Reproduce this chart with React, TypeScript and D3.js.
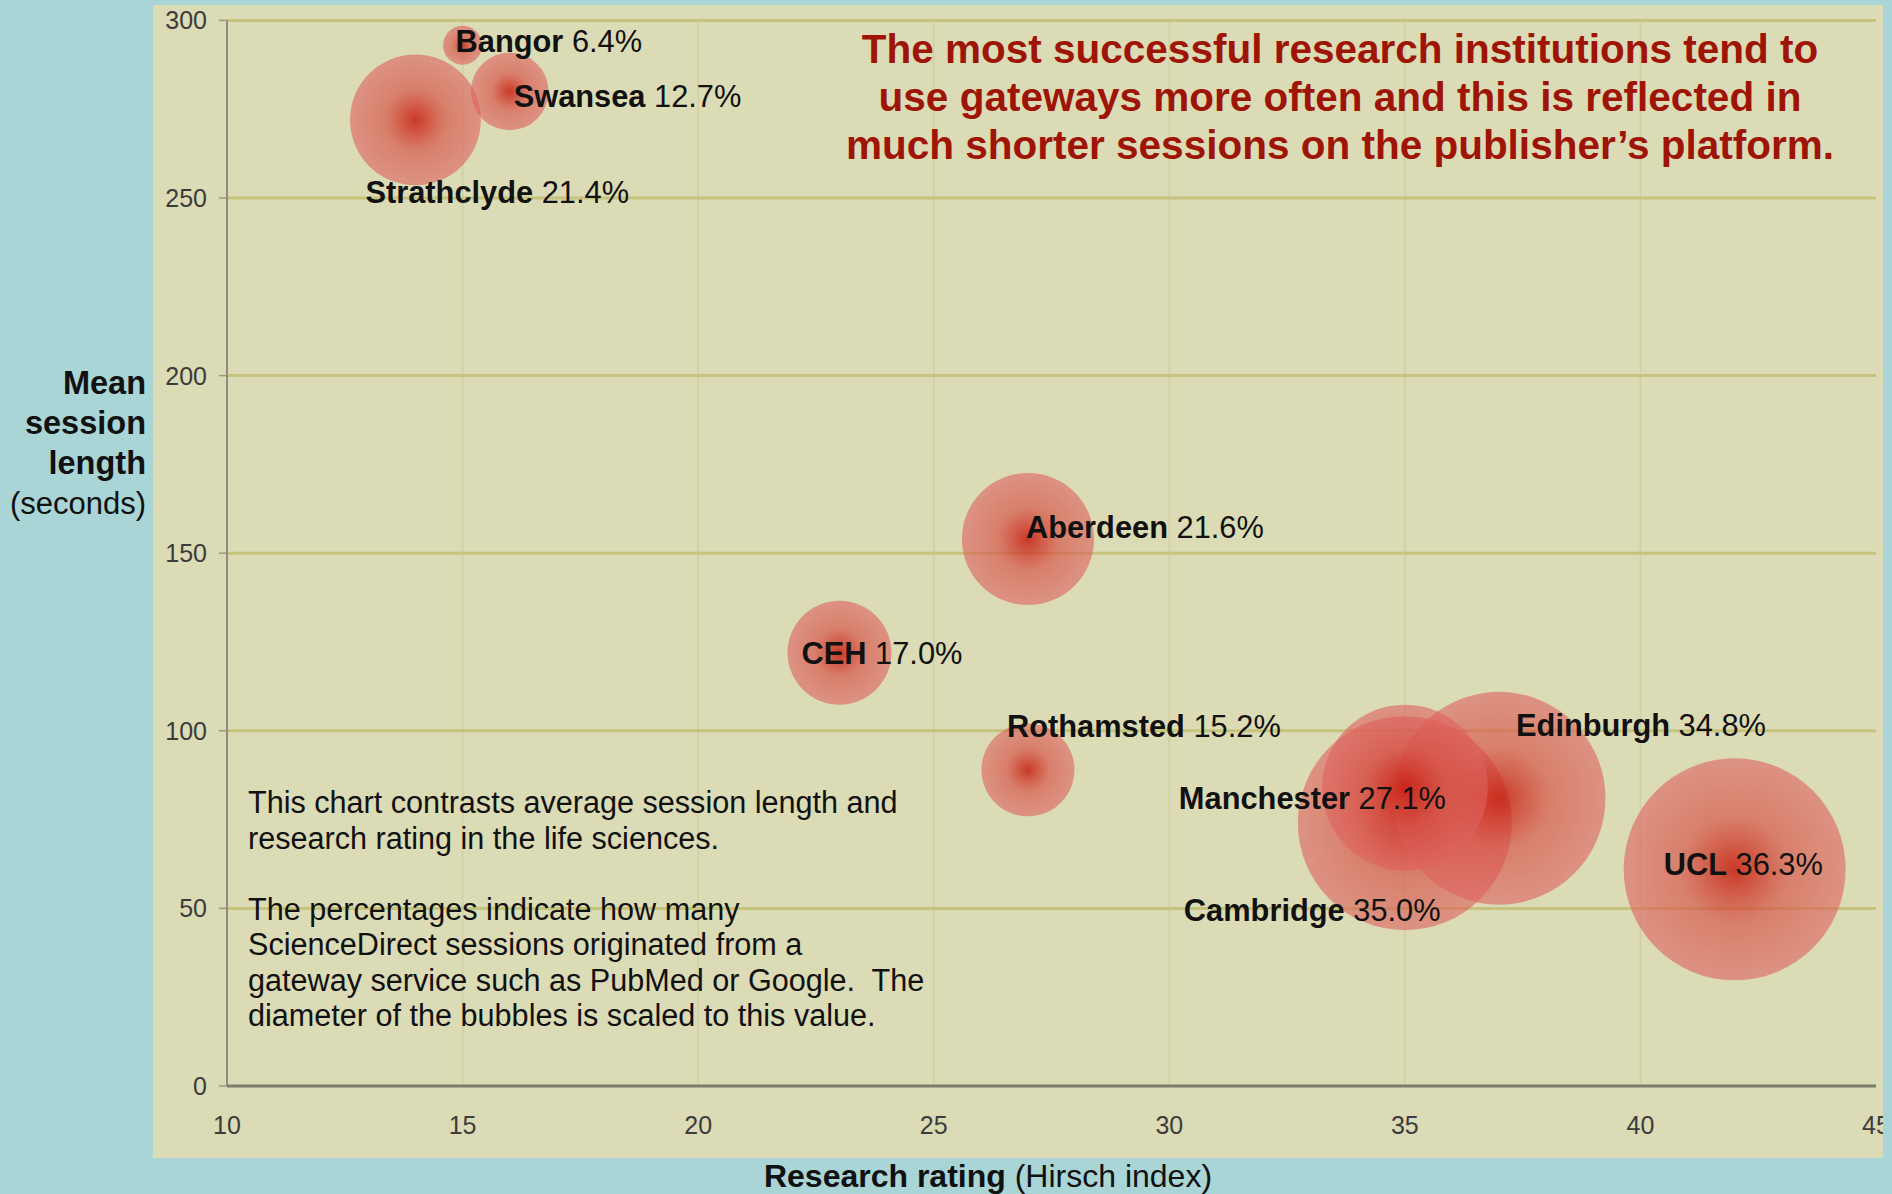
import { scaleLinear } from "d3";
import { useEffect } from "react";

// Data
const institutions = [
  "Bangor",
  "Swansea",
  "Strathclyde",
  "Aberdeen",
  "CEH",
  "Rothamsted",
  "Manchester",
  "Cambridge",
  "Edinburgh",
  "UCL"
];
const hirschIndex = [15, 16, 14, 27, 23, 27, 35, 35, 37, 42];
const sessionSeconds = [293, 280, 272, 154, 122, 89, 84, 74, 81, 61];
const gatewayShare = [6.4, 12.7, 21.4, 21.6, 17.0, 15.2, 27.1, 35.0, 34.8, 36.3];

const xTicks = [10, 15, 20, 25, 30, 35, 40, 45];
const yTicks = [0, 50, 100, 150, 200, 250, 300];

const titleLines = [
  "The most successful research institutions tend to",
  "use gateways more often and this is reflected in",
  "much shorter sessions on the publisher\u2019s platform."
];
const noteLines = [
  "This chart contrasts average session length and",
  "research rating in the life sciences.",
  "",
  "The percentages indicate how many",
  "ScienceDirect sessions originated from a",
  "gateway service such as PubMed or Google.\u00a0 The",
  "diameter of the bubbles is scaled to this value."
];

// label placement relative to bubble centre (layout only)
const labelOffsets: Record<string, [number, number]> = {
  Bangor: [-7, 7],
  Swansea: [4, 16],
  Strathclyde: [-50, 83],
  Aberdeen: [-2, -1],
  CEH: [-38, 11],
  Rothamsted: [-21, -33],
  Manchester: [-226, 21],
  Cambridge: [-221, 98],
  Edinburgh: [17, -62],
  UCL: [-71, 6]
};

const width = 1892;
const height = 1194;
const panel = { x: 153, y: 5, w: 1730, h: 1153 };
const font = "'Liberation Sans', Arial, Helvetica, sans-serif";

function App() {
  useEffect(() => {
    document.body.style.margin = "0";
  }, []);

  const x = scaleLinear().domain([10, 45]).range([227, 1876]);
  const y = scaleLinear().domain([0, 300]).range([1086, 20.4]);
  const r = scaleLinear().domain([0, 36.3]).range([0, 111]);

  const bubbles = institutions
    .map((name, i) => ({
      name,
      hx: hirschIndex[i],
      sy: sessionSeconds[i],
      pct: gatewayShare[i]
    }))
    .sort((a, b) => b.pct - a.pct);

  return (
    <svg
      width={width}
      height={height}
      style={{ display: "block", position: "absolute", left: 0, top: 0 }}
      fontFamily={font}
    >
      <defs>
        <radialGradient id="bubbleFill">
          <stop offset="0%" stopColor="rgb(198,28,14)" stopOpacity={0.85} />
          <stop offset="18%" stopColor="rgb(204,44,30)" stopOpacity={0.76} />
          <stop offset="48%" stopColor="rgb(214,78,68)" stopOpacity={0.65} />
          <stop offset="100%" stopColor="rgb(222,98,95)" stopOpacity={0.6} />
        </radialGradient>
        <clipPath id="panelClip">
          <rect x={panel.x} y={panel.y} width={panel.w} height={panel.h} />
        </clipPath>
      </defs>

      <rect x={0} y={0} width={width} height={height} fill="#a9d5d6" />
      <rect
        x={panel.x}
        y={panel.y}
        width={panel.w}
        height={panel.h}
        fill="#dbdbb5"
      />

      <g clipPath="url(#panelClip)">
        {/* faint vertical grid */}
        {xTicks
          .filter((t) => t > 10 && t < 45)
          .map((t) => (
            <line
              key={`vg-${t}`}
              x1={x(t)}
              x2={x(t)}
              y1={y(300)}
              y2={y(0)}
              stroke="#cfcea4"
              strokeWidth={1.5}
            />
          ))}
        {/* horizontal grid */}
        {yTicks
          .filter((t) => t > 0)
          .map((t) => (
            <line
              key={`hg-${t}`}
              x1={x(10)}
              x2={x(45)}
              y1={y(t)}
              y2={y(t)}
              stroke="#c6c47c"
              strokeWidth={3}
            />
          ))}
        {/* y ticks */}
        {yTicks.map((t) => (
          <g key={`yt-${t}`}>
            <line
              x1={x(10) - 8}
              x2={x(10)}
              y1={y(t)}
              y2={y(t)}
              stroke="#9a9a88"
              strokeWidth={1.5}
            />
            <text
              x={207}
              y={y(t) + 9}
              textAnchor="end"
              fontSize={25}
              fill="#3c3c3c"
            >
              {t}
            </text>
          </g>
        ))}
        {/* axes */}
        <line
          x1={x(10)}
          x2={x(10)}
          y1={y(300)}
          y2={y(0)}
          stroke="#8c8c80"
          strokeWidth={2}
        />
        <line
          x1={x(10)}
          x2={x(45)}
          y1={y(0)}
          y2={y(0)}
          stroke="#7c7c6c"
          strokeWidth={3}
        />
        {xTicks.map((t) => (
          <text
            key={`xt-${t}`}
            x={x(t)}
            y={1134}
            textAnchor="middle"
            fontSize={25}
            fill="#3c3c3c"
          >
            {t}
          </text>
        ))}

        {/* bubbles */}
        {bubbles.map((b) => (
          <circle
            key={`b-${b.name}`}
            cx={x(b.hx)}
            cy={y(b.sy)}
            r={r(b.pct)}
            fill="url(#bubbleFill)"
          />
        ))}

        {/* bubble labels */}
        {bubbles.map((b) => {
          const [dx, dy] = labelOffsets[b.name] ?? [0, 0];
          return (
            <text
              key={`l-${b.name}`}
              x={x(b.hx) + dx}
              y={y(b.sy) + dy}
              fontSize={30.8}
              fill="#111"
            >
              <tspan fontWeight="bold">{b.name}</tspan>
              <tspan>{` ${b.pct.toFixed(1)}%`}</tspan>
            </text>
          );
        })}

        {/* headline */}
        {titleLines.map((line, i) => (
          <text
            key={`title-${i}`}
            x={1340}
            y={63 + i * 48}
            textAnchor="middle"
            fontSize={40.5}
            fontWeight="bold"
            fill="#9e1507"
          >
            {line}
          </text>
        ))}

        {/* note */}
        {noteLines.map((line, i) => (
          <text
            key={`note-${i}`}
            x={248}
            y={813 + i * 35.5}
            fontSize={30.6}
            fill="#111"
          >
            {line}
          </text>
        ))}
      </g>

      {/* y axis title */}
      {["Mean", "session", "length"].map((line, i) => (
        <text
          key={`yl-${i}`}
          x={146}
          y={394 + i * 40}
          textAnchor="end"
          fontSize={32.5}
          fontWeight="bold"
          fill="#111"
        >
          {line}
        </text>
      ))}
      <text x={146} y={514} textAnchor="end" fontSize={31} fill="#111">
        (seconds)
      </text>

      {/* x axis title */}
      <text x={988} y={1187} textAnchor="middle" fontSize={32} fill="#111">
        <tspan fontWeight="bold">Research rating</tspan>
        <tspan> (Hirsch index)</tspan>
      </text>
    </svg>
  );
}

export default App;
